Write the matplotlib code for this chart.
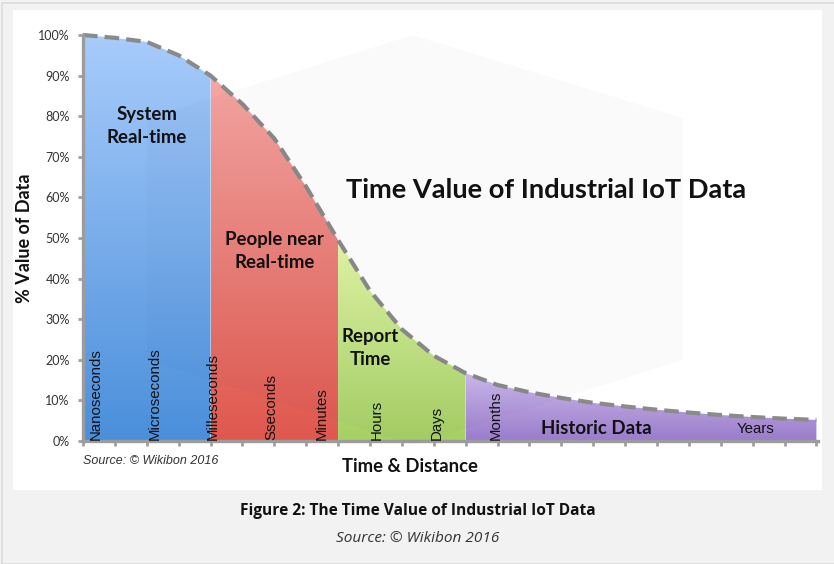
import numpy as np
import matplotlib
matplotlib.use("Agg")
import matplotlib.pyplot as plt
from matplotlib.colors import LinearSegmentedColormap
from matplotlib.patches import Polygon, Rectangle

# ---------------- data ----------------
steps = list(range(24))
value = [100, 99.3, 98.3, 95.0, 90.0, 83.0, 74.5, 62.6, 49.5, 37.0, 27.5, 21.0,
         16.7, 13.8, 12.0, 10.6, 9.4, 8.5, 7.7, 7.0, 6.4, 5.9, 5.5, 5.2]

zone_bounds = [0, 4, 8, 12, 23]
zone_names = ["System\nReal-time", "People near\nReal-time", "Report\nTime", "Historic Data"]
zone_label_pos = [(2.0, 77.6), (6.0, 46.8), (9.0, 23.0), (16.1, 3.0)]
zone_top_color = ["#a8ccfb", "#f7a7a3", "#e3f7a6", "#cdbaec"]
zone_bot_color = ["#4a8fdb", "#df584e", "#a5d064", "#9a7ccb"]

time_units = ["Nanoseconds", "Microseconds", "Milleseconds", "Sseconds", "Minutes",
              "Hours", "Days", "Months"]
time_unit_x = [0.41, 2.25, 4.06, 5.9, 7.5, 9.2, 11.08, 12.95]

yticks = list(range(0, 101, 10))
ytick_labels = ["%d%%" % v for v in yticks]

W, H = 834, 564
fig = plt.figure(figsize=(W / 100, H / 100), dpi=100, facecolor="#f2f2f2")

def fx(px):
    return px / W

def fy(py):
    return 1 - py / H

# page frame + white panel
fig.patches.append(Rectangle((fx(2), 0), 1, fy(3), transform=fig.transFigure,
                             facecolor="#f2f2f2", edgecolor="#dcdcdc", lw=1.2, zorder=-3))
fig.patches.append(Rectangle((fx(13), fy(490)), fx(822 - 13), (490 - 10) / H,
                             transform=fig.transFigure, facecolor="white",
                             edgecolor="none", zorder=-2))

ax = fig.add_axes([fx(83), fy(441), fx(818 - 83), (441 - 35) / H])
ax.set_facecolor("none")

# gradient filled zones
xs = np.array(steps, dtype=float)
ys = np.array(value, dtype=float)
for i in range(4):
    a, b = zone_bounds[i], zone_bounds[i + 1]
    sx = xs[a:b + 1]
    sy = ys[a:b + 1]
    poly = ax.fill_between(sx, sy, 0, color="none", lw=0)
    cmap = LinearSegmentedColormap.from_list("z%d" % i, [zone_bot_color[i], zone_top_color[i]])
    grad = np.linspace(1, 0, 256).reshape(-1, 1)
    im = ax.imshow(grad, extent=[a, b, 0, sy.max()], aspect="auto", cmap=cmap,
                   origin="upper", zorder=1, interpolation="bilinear")
    im.set_clip_path(poly.get_paths()[0], ax.transData)

ax.plot(xs, ys, color="#8a8a8a", lw=3.0, dashes=(3.5, 1.7), zorder=4,
        clip_on=False, solid_capstyle="butt")

ax.set_xlim(0, 23.05)
ax.set_ylim(0, 100)

for side in ["top", "right"]:
    ax.spines[side].set_visible(False)
for side in ["left", "bottom"]:
    ax.spines[side].set_color("#9c9c9c")
    ax.spines[side].set_linewidth(2.4)
    ax.spines[side].set_zorder(5)

ax.set_xticks(steps)
ax.set_xticklabels([])
ax.set_yticks(yticks)
ax.set_yticklabels(ytick_labels, fontfamily="Lato", fontsize=9, color="#333333")
ax.tick_params(axis="both", direction="out", length=3.5, width=2, color="#a0a0a0")
ax.tick_params(axis="y", pad=6)

# zone labels
for i, name in enumerate(zone_names):
    ax.text(zone_label_pos[i][0], zone_label_pos[i][1], name, ha="center", va="center",
            fontfamily="Lato", fontweight="bold", fontsize=13.4, color="#111111",
            linespacing=1.42, zorder=6)

for name, x in zip(time_units, time_unit_x):
    ax.text(x, 0.3, name, rotation=90, ha="center", va="bottom",
            fontfamily="Liberation Sans", fontsize=10.8, color="#111111", zorder=6)
ax.text(21.1, 3.0, "Years", ha="center", va="center",
        fontfamily="Liberation Sans", fontsize=10.8, color="#111111", zorder=6)

ax.text(14.53, 61.8, "Time Value of Industrial IoT Data", ha="center", va="center",
        fontfamily="Lato", fontweight="bold", fontsize=19.6, color="#111111", zorder=6)

ax.set_ylabel("% Value of Data", fontfamily="Lato", fontweight="bold", fontsize=13,
              color="#111111", labelpad=4)

fig.text(fx(83), fy(461), "Source: \u00a9 Wikibon 2016", ha="left", va="center",
         fontfamily="Liberation Sans", fontstyle="italic", fontsize=9, color="#333333")
fig.text(fx(410), fy(467), "Time & Distance", ha="center", va="center",
         fontfamily="Lato", fontweight="bold", fontsize=13.3, color="#111111")

# caption
fig.text(fx(418), fy(511), "Figure 2: The Time Value of Industrial IoT Data",
         ha="center", va="center", fontfamily="Open Sans", fontweight="bold",
         fontsize=11.2, color="#111111")
fig.text(fx(418), fy(539), "Source: \u00a9 Wikibon 2016", ha="center", va="center",
         fontfamily="Open Sans", fontstyle="italic", fontsize=11.1, color="#333333")

# faint watermark hexagon
hexpx = [(413, 35), (683, 118), (683, 360), (413, 445), (147, 360), (147, 118)]
fig.patches.append(Polygon([(fx(x), fy(y)) for x, y in hexpx], closed=True,
                           transform=fig.transFigure, facecolor="#1a1a50",
                           alpha=0.018, edgecolor="none", zorder=10))

fig.savefig("out.png", dpi=100, facecolor=fig.get_facecolor())
